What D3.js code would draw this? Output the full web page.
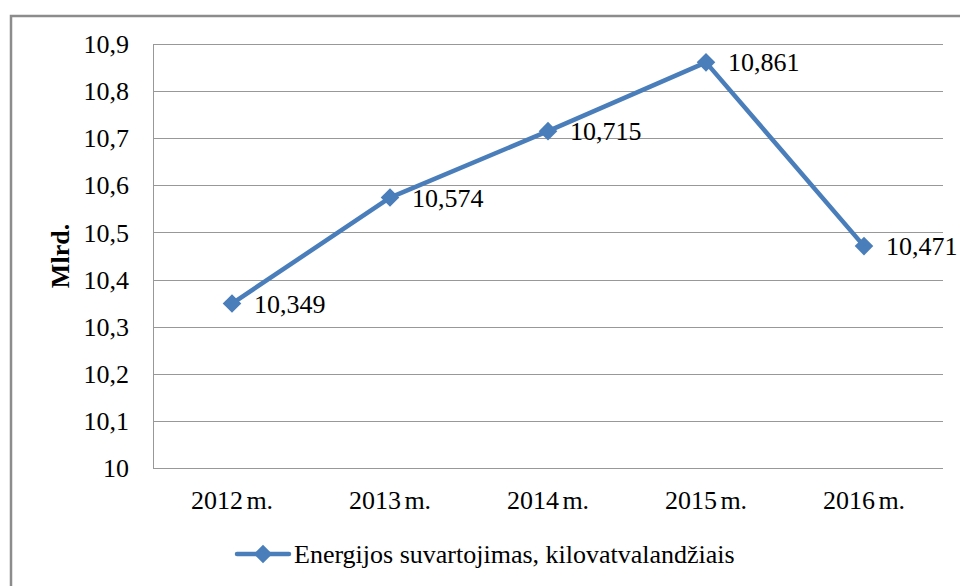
<!DOCTYPE html>
<html>
<head>
<meta charset="utf-8">
<script src="https://cdn.jsdelivr.net/npm/d3@7"></script>
<style>
  body { margin: 0; background: #fff; }
  svg text { font-family: "Liberation Serif", "Times New Roman", serif; fill: #000; }
</style>
</head>
<body>
<svg id="chart" width="960" height="586"></svg>
<script>
// data
var years = ["2012 m.", "2013 m.", "2014 m.", "2015 m.", "2016 m."];
var values = [10.349, 10.574, 10.715, 10.861, 10.471];
var yTicks = [10, 10.1, 10.2, 10.3, 10.4, 10.5, 10.6, 10.7, 10.8, 10.9];
var seriesName = "Energijos suvartojimas, kilovatvalandžiais";

var blue = "#4a7ebb";
var serif = "Liberation Serif";
var fmt = function (v) { return String(v).replace(".", ","); };

var svg = d3.select("#chart");

// outer chart frame (right and bottom edges fall outside the picture)
svg.append("rect")
    .attr("x", 11).attr("y", 16)
    .attr("width", 980).attr("height", 600)
    .attr("fill", "none")
    .attr("stroke", "#8c8c8c")
    .attr("stroke-width", 2.5);

var plotL = 153, plotR = 943, plotT = 44, plotB = 468;

var x = d3.scaleBand().domain(years).range([plotL, plotR]);
var y = d3.scaleLinear().domain([10, 10.9]).range([plotB, plotT]);
var cx = function (i) { return x(years[i]) + x.bandwidth() / 2; };

// gridlines
svg.append("g").selectAll("line")
    .data(yTicks)
    .enter().append("line")
    .attr("x1", plotL).attr("x2", plotR)
    .attr("y1", function (d) { return Math.round(y(d)) + 0.5; })
    .attr("y2", function (d) { return Math.round(y(d)) + 0.5; })
    .attr("stroke", "#989898")
    .attr("stroke-width", 1);

// y axis line
svg.append("line")
    .attr("x1", plotL + 0.5).attr("x2", plotL + 0.5)
    .attr("y1", plotT).attr("y2", plotB)
    .attr("stroke", "#989898");

// y tick labels
svg.append("g").selectAll("text")
    .data(yTicks)
    .enter().append("text")
    .attr("x", 129)
    .attr("y", function (d) { return y(d); })
    .attr("dy", "0.35em")
    .attr("text-anchor", "end")
    .attr("font-family", serif)
    .style("font-size", "26px")
    .text(function (d) { return d === 10 ? "10" : fmt(d3.format(".1f")(d)); });

// x labels
svg.append("g").selectAll("text")
    .data(years)
    .enter().append("text")
    .attr("x", function (d, i) { return cx(i); })
    .attr("y", 509)
    .attr("text-anchor", "middle")
    .attr("font-family", serif)
    .style("font-size", "26px")
    .style("word-spacing", "-3px")
    .text(function (d) { return d; });

// y axis title
svg.append("text")
    .attr("transform", "translate(69,256) rotate(-90)")
    .attr("text-anchor", "middle")
    .attr("font-family", serif)
    .style("font-size", "26px")
    .style("font-weight", "bold")
    .text("Mlrd.");

// series line
var line = d3.line()
    .x(function (d, i) { return cx(i); })
    .y(function (d) { return y(d); });

svg.append("path")
    .datum(values)
    .attr("d", line)
    .attr("fill", "none")
    .attr("stroke", blue)
    .attr("stroke-width", 4.5)
    .attr("stroke-linejoin", "round");

var diamond = d3.symbol().type(d3.symbolDiamond2).size(220);

svg.append("g").selectAll("path")
    .data(values)
    .enter().append("path")
    .attr("d", diamond)
    .attr("transform", function (d, i) {
        return "translate(" + cx(i) + "," + y(d) + ")";
    })
    .attr("fill", blue);

// data labels
svg.append("g").selectAll("text")
    .data(values)
    .enter().append("text")
    .attr("x", function (d, i) { return cx(i) + 22; })
    .attr("y", function (d) { return y(d); })
    .attr("dy", "0.35em")
    .attr("font-family", serif)
    .style("font-size", "26px")
    .text(function (d) { return fmt(d3.format(".3f")(d)); });

// legend
svg.append("line")
    .attr("x1", 237).attr("x2", 289)
    .attr("y1", 554).attr("y2", 554)
    .attr("stroke", blue)
    .attr("stroke-width", 4.5)
    .attr("stroke-linecap", "round");
svg.append("path")
    .attr("d", diamond)
    .attr("transform", "translate(263,554)")
    .attr("fill", blue);
svg.append("text")
    .attr("x", 294).attr("y", 554)
    .attr("dy", "0.35em")
    .attr("font-family", serif)
    .style("font-size", "26px")
    .text(seriesName);
</script>
</body>
</html>
